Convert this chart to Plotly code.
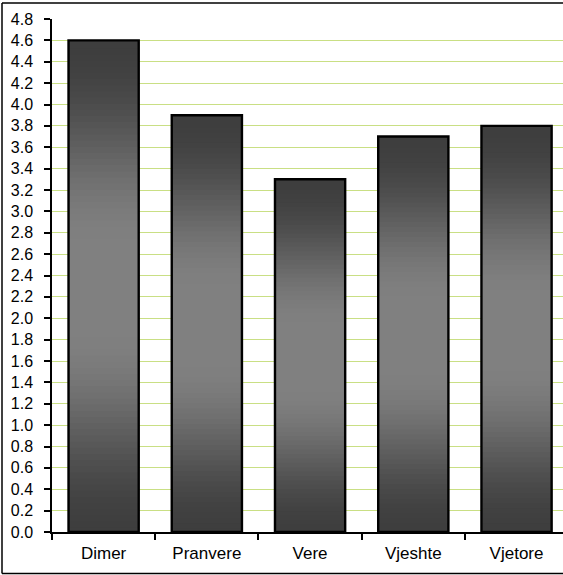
import numpy as np
import plotly.graph_objects as go

# Seasonal values
categories = ["Dimer", "Pranvere", "Vere", "Vjeshte", "Vjetore"]
values = [4.6, 3.9, 3.3, 3.7, 3.8]

# Bar shading: dark at both ends, light band in the middle
DARK = 62
LIGHT = 128
N_SLICES = 80


def shade(t):
    """Grey level for relative height t (0 = bottom, 1 = top)."""
    if 0.42 <= t <= 0.58:
        s = 1.0
    elif t < 0.42:
        s = t / 0.42
        s = 0.5 - 0.5 * np.cos(np.pi * s)
    else:
        s = (1.0 - t) / 0.42
        s = 0.5 - 0.5 * np.cos(np.pi * s)
    g = int(round(DARK + (LIGHT - DARK) * s))
    return f"rgb({g},{g},{g})"


fig = go.Figure()
vals = np.array(values, dtype=float)
for k in range(N_SLICES):
    step = vals / N_SLICES
    eps = step * 0.3 if k > 0 else 0 * step
    fig.add_trace(go.Bar(
        x=categories,
        y=step + eps,
        base=vals * k / N_SLICES - eps,
        marker=dict(color=shade((k + 0.5) / N_SLICES), line=dict(width=0)),
        hoverinfo="skip",
        showlegend=False,
    ))

# Outline of each bar
fig.add_trace(go.Bar(
    x=categories,
    y=values,
    marker=dict(color="rgba(0,0,0,0)", line=dict(color="black", width=2.4)),
    showlegend=False,
    hovertemplate="%{x}: %{y}<extra></extra>",
))

ML, MT, MB = 52, 19, 43
W, H = 563, 575
pw = W - ML
ph = H - MT - MB

# Chart frame (left, top and bottom edges; the right edge lies past the page)
fx0 = (2 - ML) / pw
fx1 = 1.0
fy0 = -(573.5 - (H - MB)) / ph
fy1 = 1 + (MT - 3) / ph
frame = dict(type="line", xref="paper", yref="paper",
             line=dict(color="black", width=1.5), layer="above")

fig.update_layout(
    width=W,
    height=H,
    margin=dict(l=ML, r=0, t=MT, b=MB, pad=0),
    barmode="overlay",
    bargap=0.32,
    plot_bgcolor="white",
    paper_bgcolor="white",
    font=dict(family="Liberation Sans, Arial, sans-serif", color="black"),
    shapes=[
        dict(frame, x0=fx0, x1=fx0, y0=fy0, y1=fy1),
        dict(frame, x0=fx0, x1=fx1, y0=fy1, y1=fy1),
        dict(frame, x0=fx0, x1=fx1, y0=fy0, y1=fy0),
    ],
)

fig.update_xaxes(
    type="category",
    range=[-0.5, 4.45],
    showline=True, linecolor="black", linewidth=1.5,
    ticks="outside", tickson="boundaries", ticklen=6, tickwidth=1.5, tickcolor="black",
    showgrid=False,
    tickfont=dict(size=17),
    ticklabelstandoff=5,
)

fig.update_yaxes(
    range=[0, 4.8],
    dtick=0.2,
    tickformat=".1f",
    showline=True, linecolor="black", linewidth=1.5,
    ticks="outside", ticklen=6, tickwidth=1.5, tickcolor="black",
    showgrid=True, gridcolor="#c9df84", gridwidth=1,
    zeroline=False,
    tickfont=dict(size=16),
    ticklabelstandoff=8,
)

fig.write_html("out.html")
